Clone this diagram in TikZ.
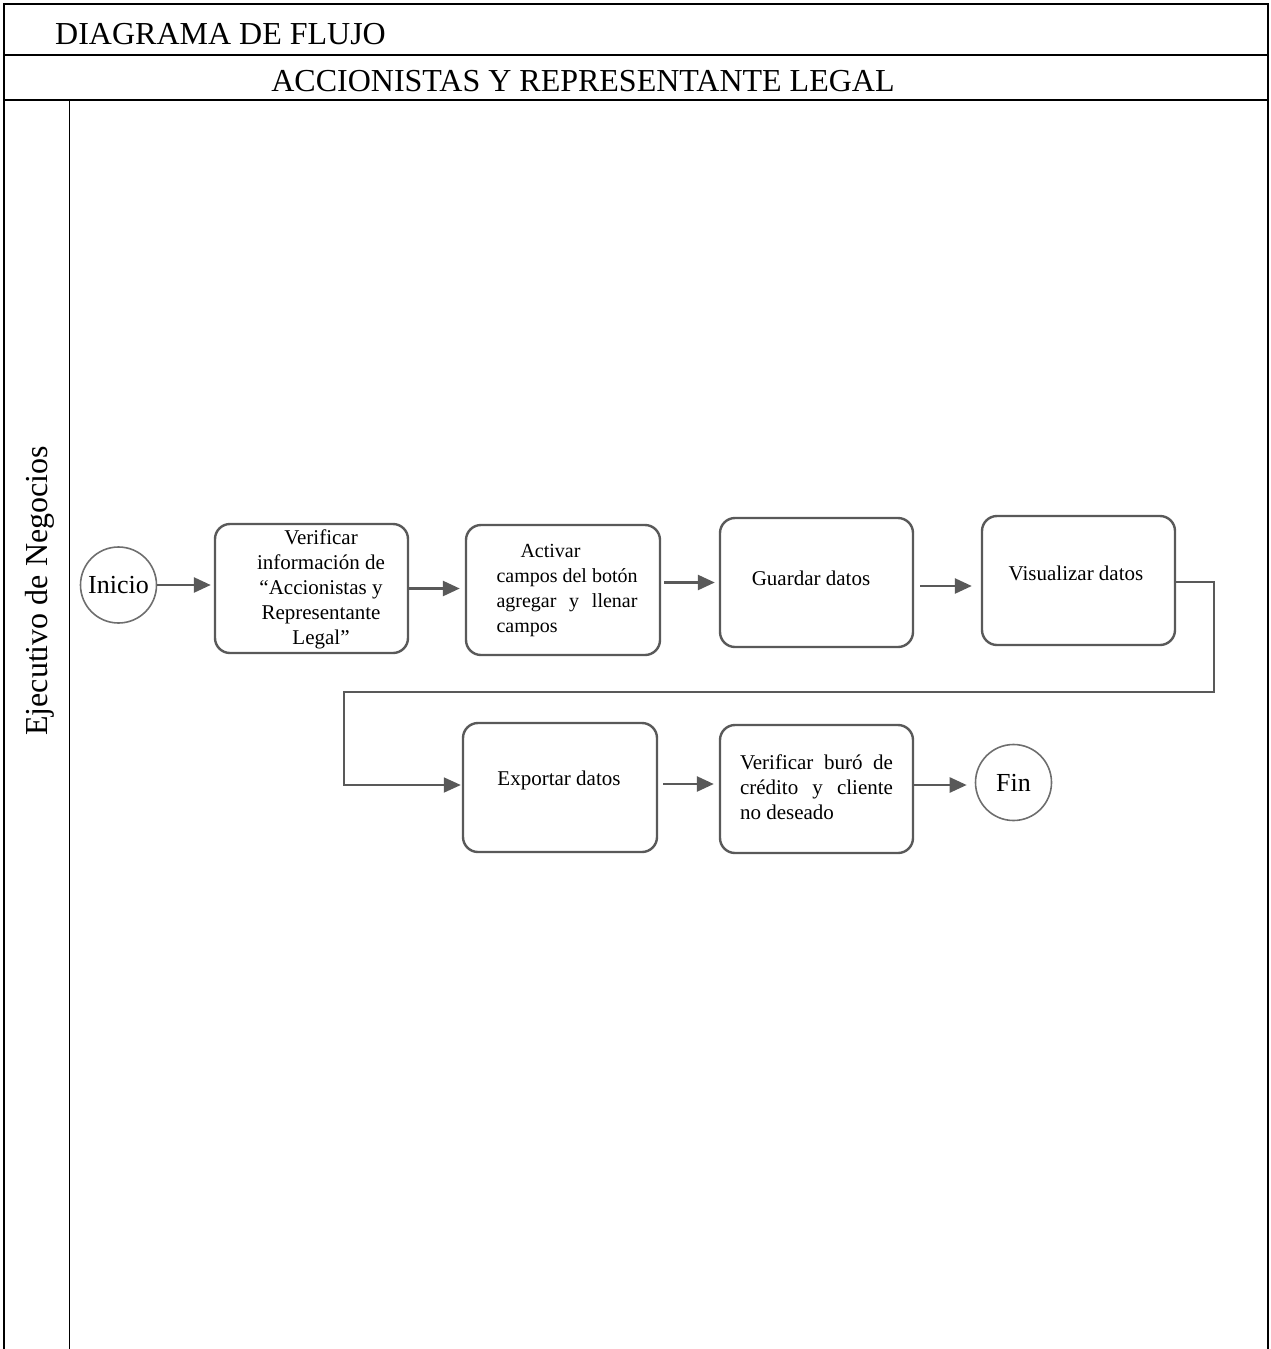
\documentclass[tikz,border=0pt]{standalone}
\usepackage{fontspec}
\setmainfont{Liberation Serif}
\usetikzlibrary{arrows.meta}

\definecolor{linegray}{HTML}{595959}
\definecolor{circgray}{HTML}{6E6E6E}

\tikzset{
  frame/.style={draw=black, line width=1.8pt},
  rule/.style={draw=black, line width=1.3pt},
  lane/.style={draw=black, line width=1pt},
  stepbox/.style={draw=linegray, line width=2.4pt, rounded corners=15pt, inner sep=0pt},
  endpoint/.style={circle, draw=circgray, line width=1.6pt, minimum size=76pt, inner sep=0pt,
    font=\fontsize{26}{30}\selectfont},
  boxtext/.style={inner sep=0pt, font=\fontsize{21}{25}\selectfont},
  head/.style={inner sep=0pt, font=\fontsize{32}{38}\selectfont},
  flow/.style={draw=linegray, line width=2.6pt, -{Triangle[length=17pt,width=15pt]}},
  backflow/.style={draw=linegray, line width=1.8pt, -{Triangle[length=17pt,width=15pt]}},
}

\begin{document}
\begin{tikzpicture}[x=1pt, y=-1pt]
\useasboundingbox (0,0) rectangle (1270,1349);

% outer frame, header rows and lane divider
\draw[frame] (4,1352) -- (4,4) -- (1268,4) -- (1268,1352);
\draw[rule] (4,55) -- (1268,55);
\draw[rule] (4,100) -- (1268,100);
\draw[lane] (69,100) -- (69,1352);

\node[head, anchor=base west] (title) at (55,44) {DIAGRAMA DE FLUJO};
\node[head, anchor=base] (subtitle) at (583,91) {ACCIONISTAS Y REPRESENTANTE LEGAL};
\node[head, rotate=90] (lanename) at (40,591) {Ejecutivo de Negocios};

% process steps
\node[endpoint] (ini) at (118.5,585) {Inicio};
\node[stepbox, minimum width=193pt, minimum height=129pt] (b1) at (311.5,588.5) {};
\node[stepbox, minimum width=194pt, minimum height=130pt] (b2) at (563,590) {};
\node[stepbox, minimum width=193pt, minimum height=129pt] (b3) at (816.5,582.5) {};
\node[stepbox, minimum width=193pt, minimum height=129pt] (b4) at (1078.5,580.5) {};
\node[stepbox, minimum width=194pt, minimum height=129pt] (b5) at (560,787.5) {};
\node[stepbox, minimum width=193pt, minimum height=128pt] (b6) at (816.5,789) {};
\node[endpoint] (fin) at (1013.5,782.5) {Fin};

% step texts
\node[boxtext, align=center] (t1) at (321,589)
  {Verificar\\información de\\“Accionistas y\\Representante\\Legal”};
\node[boxtext, font=\fontsize{20}{25}\selectfont] (t2) at (567,591)
  {\parbox{141pt}{\hspace*{24pt}Activar\\\mbox{campos del botón}\\agregar\hfill y\hfill llenar\\campos}};
\node[boxtext] (t3) at (811,578) {Guardar datos};
\node[boxtext] (t4) at (1076,573) {Visualizar datos};
\node[boxtext] (t5) at (559,780) {Exportar datos};
\node[boxtext] (t6) at (816.5,787)
  {\parbox{153pt}{Verificar\hfill buró\hfill de\\crédito\hfill y\hfill cliente\\no deseado}};

% connectors
\draw[flow, shorten >=3pt] (ini.east) -- (ini.east -| b1.west);
\draw[flow, shorten >=5pt] (b1.east) -- (b1.east -| b2.west);
\draw[flow, shorten <=3pt, shorten >=4pt] (b2.east |- b3.west) -- (b3.west);
\draw[flow, shorten <=6pt, shorten >=9pt] ([yshift=-3.5pt]b3.east) -- ([yshift=-3.5pt]b3.east -| b4.west);

\coordinate (k1) at (1214,692);
\coordinate (k2) at (344,692);
\draw[backflow, shorten >=1pt] ([yshift=-1.5pt]b4.east) -| (k1) -- (k2) |- ([yshift=2.5pt]b5.west);

\draw[flow, shorten <=5pt, shorten >=5pt] ([yshift=3.5pt]b5.east) -- ([yshift=3.5pt]b5.east -| b6.west);
\draw[flow, shorten >=8pt] ([yshift=4pt]b6.east) -- ([yshift=4pt]b6.east -| fin.west);
\end{tikzpicture}
\end{document}
